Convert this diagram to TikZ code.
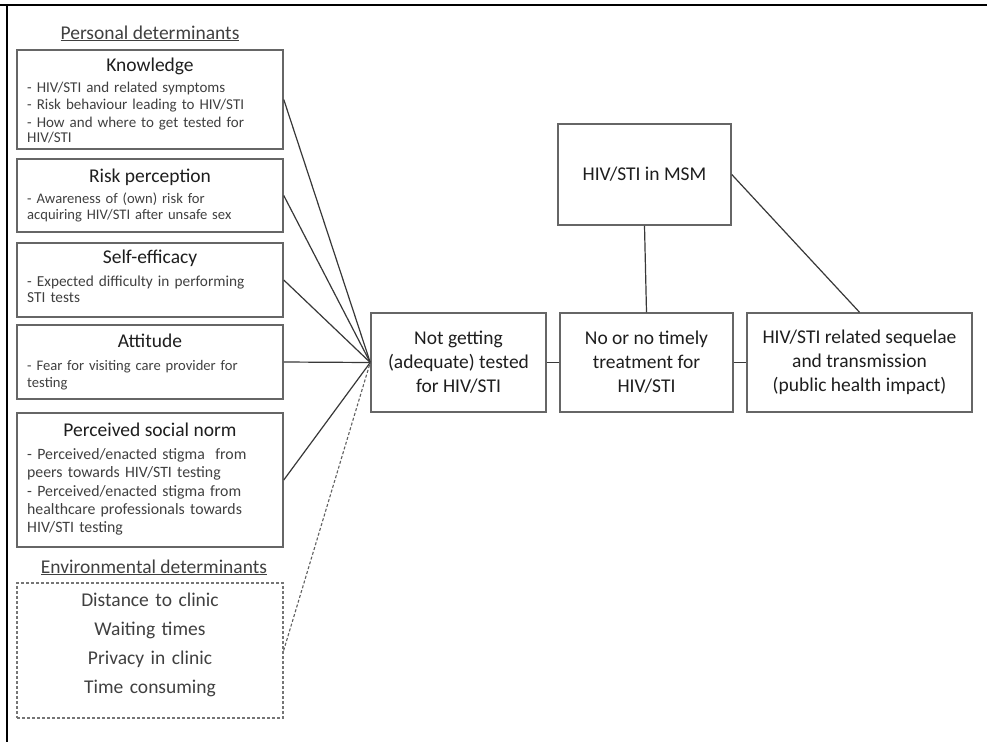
\documentclass[tikz,border=0pt]{standalone}
\usepackage{fontspec}
\setmainfont{Carlito}
\definecolor{boxc}{HTML}{666666}
\definecolor{linec}{HTML}{383838}
\definecolor{ttlc}{HTML}{1E1E1E}
\definecolor{bulc}{HTML}{404040}
\begin{document}
\begin{tikzpicture}[x=1pt,y=-1pt,
  pbox/.style={draw=boxc, line width=1.5pt, minimum width=266pt, inner sep=0pt},
  mbox/.style={draw=boxc, line width=1.5pt, inner sep=0pt, align=center, text=ttlc,
    font=\fontsize{19.5}{24}\selectfont},
  ttl/.style={anchor=base, inner sep=0pt, text=ttlc, font=\fontsize{19.5}{23}\selectfont},
  bul/.style={anchor=base west, inner sep=0pt, text=bulc, text width=255pt, align=left,
    font=\fontsize{#1}{15.5}\selectfont},
  bul/.default=15.5,
  hd/.style={anchor=base, inner sep=0pt, text=bulc, font=\fontsize{19.5}{23}\selectfont},
  conn/.style={draw=linec, line width=1.2pt},
  dconn/.style={draw=linec!80, line width=1.1pt, dash pattern=on 3pt off 2pt}
]
\useasboundingbox (0,0) rectangle (987,742);
\fill[white] (0,0) rectangle (987,742);
% frame (top and left edges)
\draw[line width=2pt, black] (0,4.5) -- (987,4.5);
\draw[line width=2pt, black] (6.5,4.5) -- (6.5,742);

% headings
\node[hd] (hpers) at (150,39) {\underline{Personal determinants}};
\node[hd] (henv) at (154,573) {\underline{Environmental determinants}};

% Knowledge
\node[pbox, minimum height=99pt] (know) at (150,99.5) {};
\node[ttl] (knowt) at (150,71.5) {Knowledge};
\node[bul=15] (knowb) at (27,92) {- HIV/STI and related symptoms\\[2pt]
  - Risk behaviour leading to HIV/STI\\[2pt]
  - How and where to get tested for\\HIV/STI};

% Risk perception
\node[pbox, minimum height=73pt] (risk) at (150,195.5) {};
\node[ttl] (riskt) at (150,182.5) {Risk perception};
\node[bul=14.6] (riskb) at (27,203.5) {- Awareness of (own) risk for\\[0.5pt]
  acquiring HIV/STI after unsafe sex};

% Self-efficacy
\node[pbox, minimum height=74pt] (self) at (150,280) {};
\node[ttl] (selft) at (150,263.5) {Self-efficacy};
\node[bul=15.3] (selfb) at (27,286) {- Expected difficulty in performing\\[0.5pt]
  STI tests};

% Attitude
\node[pbox, minimum height=74pt] (att) at (150,362) {};
\node[ttl] (attt) at (150,347.5) {Attitude};
\node[bul=14.6] (attb) at (27,370) {- Fear for visiting care provider for\\[1.5pt]
  testing};

% Perceived social norm
\node[pbox, minimum height=134pt] (norm) at (150,480) {};
\node[ttl] (normt) at (150,436.5) {Perceived social norm};
\node[bul=15.8] (normb) at (27,459) {- Perceived/enacted stigma\ \ from\\[2.5pt]
  peers towards HIV/STI testing\\[3.5pt]
  - Perceived/enacted stigma from\\[2.5pt]
  healthcare professionals towards\\[2.5pt]
  HIV/STI testing};

% Environmental determinants
\node[pbox, draw=boxc!90, line width=1.3pt, dash pattern=on 3pt off 2pt, minimum height=135pt] (env) at (150,650.5) {};
\node[anchor=base, inner sep=0pt, text=bulc, text width=266pt, align=center,
  font=\fontsize{19.5}{29}\selectfont] (envt) at (150,606.5)
  {Distance to clinic\\Waiting times\\Privacy in clinic\\Time consuming};

% main chain
\node[mbox, minimum width=175pt, minimum height=99pt] (ng) at (458.5,362.5)
  {Not getting\\(adequate) tested\\for HIV/STI};
\node[mbox, minimum width=173pt, minimum height=99pt] (mid) at (646.5,362.5)
  {No or no timely\\treatment for\\HIV/STI};
\node[mbox, minimum width=225pt, minimum height=99pt] (seq) at (859.5,362.5)
  {HIV/STI related sequelae\\and transmission\\(public health impact)};
\node[mbox, minimum width=173pt, minimum height=101pt] (msm) at (644.5,174.5)
  {HIV/STI in MSM};

% connectors
\draw[conn] (know.east) -- (ng.west);
\draw[conn] (risk.east) -- (ng.west);
\draw[conn] (self.east) -- (ng.west);
\draw[conn] (att.east) -- (ng.west);
\draw[conn] (norm.east) -- (ng.west);
\draw[dconn] (env.east) -- (ng.west);
\draw[conn] (ng.east) -- (mid.west);
\draw[conn] (mid.east) -- (seq.west);
\draw[conn] (msm.south) -- (mid.north);
\draw[conn] (msm.east) -- (seq.north);
\end{tikzpicture}
\end{document}
